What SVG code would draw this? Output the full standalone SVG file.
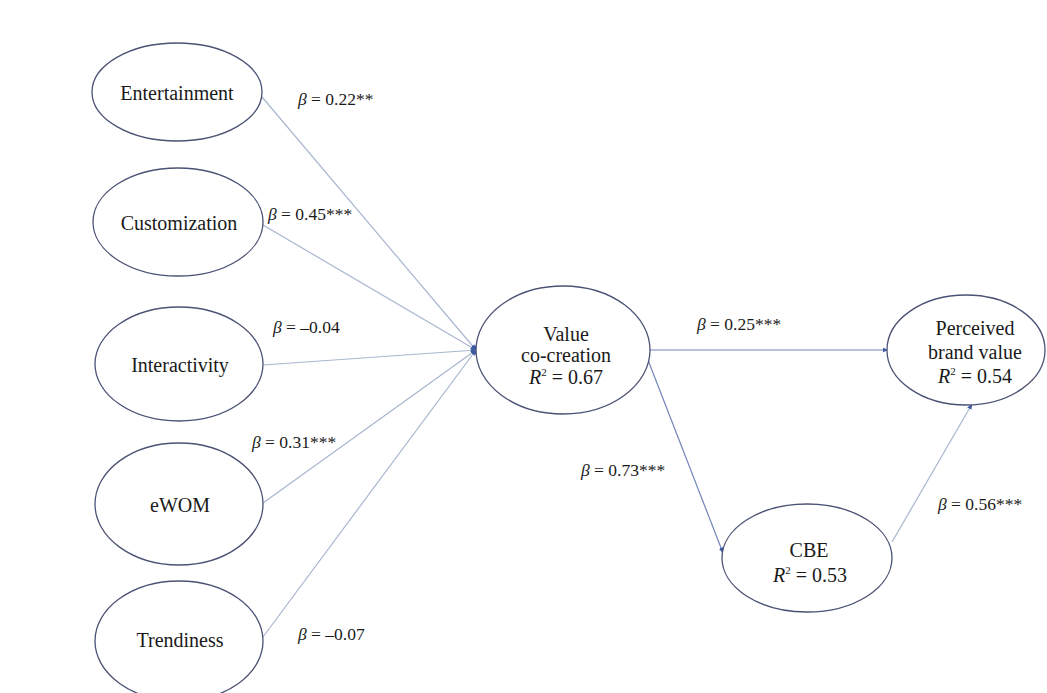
<svg xmlns="http://www.w3.org/2000/svg" width="1047" height="693" viewBox="0 0 1047 693">
<style>
.node ellipse{fill:#ffffff;stroke:#4b5275;stroke-width:1.3}
.lbl{font-family:"Liberation Serif","Times New Roman",serif;font-size:20px;fill:#1a1a1a;text-anchor:middle}
.beta{font-family:"Liberation Serif","Times New Roman",serif;font-size:17.5px;fill:#1a1a1a}
.in{stroke:#a9b6cf;stroke-width:1.2;fill:none}
.out{stroke:#7284b8;stroke-width:1.2;fill:none}
</style>
<defs>
<marker id="ah" viewBox="0 0 10 10" refX="9" refY="5" markerWidth="6" markerHeight="6" orient="auto" markerUnits="userSpaceOnUse">
<path d="M0,1 L10,5 L0,9 z" fill="#3f5ba3"/>
</marker>
</defs>
<rect width="1047" height="693" fill="#ffffff"/>
<g id="connectors">
<line class="in" x1="262" y1="97" x2="476" y2="350" marker-end="url(#ah)"/>
<line class="in" x1="263" y1="225" x2="476" y2="350" marker-end="url(#ah)"/>
<line class="in" x1="263" y1="365" x2="476" y2="350" marker-end="url(#ah)"/>
<line class="in" x1="263" y1="503" x2="476" y2="350" marker-end="url(#ah)"/>
<line class="in" x1="263" y1="637" x2="476" y2="350" marker-end="url(#ah)"/>
<ellipse cx="477" cy="350" rx="3" ry="5" fill="#3f5ba3"/>
<line class="out" x1="650" y1="350" x2="888" y2="350" marker-end="url(#ah)"/>
<line class="out" x1="648" y1="360" x2="723" y2="553" marker-end="url(#ah)"/>
<line class="in" x1="892" y1="542" x2="972" y2="404" marker-end="url(#ah)"/>
</g>
<g id="n-entertainment" class="node"><ellipse cx="177" cy="92" rx="85" ry="49"/><text class="lbl" x="177" y="100">Entertainment</text></g>
<g id="n-customization" class="node"><ellipse cx="178" cy="222" rx="85" ry="54"/><text class="lbl" x="179" y="230">Customization</text></g>
<g id="n-interactivity" class="node"><ellipse cx="179" cy="364" rx="84" ry="57"/><text class="lbl" x="180" y="372">Interactivity</text></g>
<g id="n-ewom" class="node"><ellipse cx="179" cy="504" rx="84" ry="61"/><text class="lbl" x="180" y="512">eWOM</text></g>
<g id="n-trendiness" class="node"><ellipse cx="179" cy="641" rx="84" ry="60"/><text class="lbl" x="180" y="647">Trendiness</text></g>
<g id="n-vcc" class="node"><ellipse cx="563" cy="350" rx="87" ry="64"/>
<text class="lbl" x="566" y="341">Value</text>
<text class="lbl" x="566" y="362">co-creation</text>
<text class="lbl" x="566" y="384"><tspan font-style="italic">R</tspan><tspan font-size="11" dy="-8">2</tspan><tspan dy="8"> = 0.67</tspan></text></g>
<g id="n-pbv" class="node"><ellipse cx="966" cy="350" rx="79" ry="55"/>
<text class="lbl" x="975" y="335">Perceived</text>
<text class="lbl" x="975" y="359">brand value</text>
<text class="lbl" x="975" y="383"><tspan font-style="italic">R</tspan><tspan font-size="11" dy="-8">2</tspan><tspan dy="8"> = 0.54</tspan></text></g>
<g id="n-cbe" class="node"><ellipse cx="807" cy="558" rx="85" ry="54"/>
<text class="lbl" x="809" y="557">CBE</text>
<text class="lbl" x="810" y="582"><tspan font-style="italic">R</tspan><tspan font-size="11" dy="-8">2</tspan><tspan dy="8"> = 0.53</tspan></text></g>
<g id="labels">
<text class="beta" x="298" y="105"><tspan font-style="italic">β</tspan> = 0.22**</text>
<text class="beta" x="268" y="220"><tspan font-style="italic">β</tspan> = 0.45***</text>
<text class="beta" x="273" y="333"><tspan font-style="italic">β</tspan> = –0.04</text>
<text class="beta" x="252" y="448"><tspan font-style="italic">β</tspan> = 0.31***</text>
<text class="beta" x="298" y="640"><tspan font-style="italic">β</tspan> = –0.07</text>
<text class="beta" x="697" y="330"><tspan font-style="italic">β</tspan> = 0.25***</text>
<text class="beta" x="581" y="476"><tspan font-style="italic">β</tspan> = 0.73***</text>
<text class="beta" x="938" y="510"><tspan font-style="italic">β</tspan> = 0.56***</text>
</g>
</svg>
